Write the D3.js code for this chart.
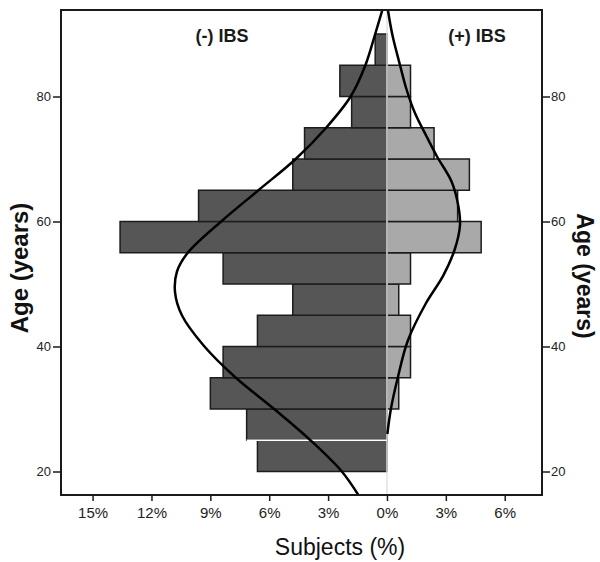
<!DOCTYPE html>
<html>
<head>
<meta charset="utf-8">
<script src="https://cdn.jsdelivr.net/npm/d3@7"></script>
<style>
  body { margin: 0; background: #fff; }
  svg { display: block; font-family: "Liberation Sans", Arial, sans-serif; }
</style>
</head>
<body>
<div id="chart"></div>
<script>
'use strict';

// age bins (lower edge, 5-year wide)
const ageBins = [20, 25, 30, 35, 40, 45, 50, 55, 60, 65, 70, 75, 80, 85];
// percent of subjects per bin
const noIbsPct = [6.6, 7.15, 9.0, 8.35, 6.6, 4.8, 8.35, 13.6, 9.6, 4.8, 4.2, 1.8, 2.4, 0.6];
const ibsPct   = [0, 0, 0.6, 1.2, 1.2, 0.6, 1.2, 4.8, 3.6, 4.2, 2.4, 1.2, 1.2, 0];

// fitted normal curves
const noIbsCurveAge = [16.2, 20, 25, 30, 35, 40, 45, 48.7, 52, 55, 60, 65, 70, 75, 80, 85, 90, 93.8];
const noIbsCurvePct = [1.45, 2.3, 3.9, 5.75, 7.7, 9.3, 10.45, 10.8, 10.7, 10.15, 8.45, 6.55, 4.65, 3.1, 1.85, 1.1, 0.6, 0.24];
const ibsCurveAge = [26, 30, 35, 41, 47, 51.3, 55.6, 59.4, 62.6, 66.4, 70.4, 73.6, 77.4, 81.2, 85.2, 89.8, 93.8];
const ibsCurvePct = [0.02, 0.2, 0.55, 1.07, 2.0, 2.86, 3.46, 3.72, 3.63, 3.29, 2.55, 2.02, 1.42, 0.99, 0.65, 0.28, 0.05];

const xTicks = [-15, -12, -9, -6, -3, 0, 3, 6];
const yTicks = [20, 40, 60, 80];

let w = 600;
let h = 562;
let fLeft = 61, fRight = 542, fTop = 10, fBottom = 495;

let x = d3.scaleLinear().domain([-16.61, 7.90]).range([fLeft, fRight]);
let y = d3.scaleLinear().domain([16.24, 93.84]).range([fBottom, fTop]);

let svg = d3.select('#chart').append('svg')
	.attr('width', w)
	.attr('height', h);

// bars: (-) IBS to the left
svg.append('g').selectAll('rect')
	.data(ageBins)
	.enter()
	.append('rect')
	.attr('x', (d, i) => x(-noIbsPct[i]))
	.attr('y', d => y(d + 5))
	.attr('width', (d, i) => x(0) - x(-noIbsPct[i]))
	.attr('height', d => y(d) - y(d + 5))
	.attr('fill', '#565656')
	.attr('stroke', '#1c1c1c')
	.attr('stroke-width', 1.5);

// bars: (+) IBS to the right
svg.append('g').selectAll('rect')
	.data(ageBins.filter((d, i) => ibsPct[i] > 0))
	.enter()
	.append('rect')
	.attr('x', x(0))
	.attr('y', d => y(d + 5))
	.attr('width', d => x(ibsPct[ageBins.indexOf(d)]) - x(0))
	.attr('height', d => y(d) - y(d + 5))
	.attr('fill', '#a9a9a9')
	.attr('stroke', '#1c1c1c')
	.attr('stroke-width', 1.5);

// white seam between the two lowest bars
svg.append('line')
	.attr('x1', x(-noIbsPct[1])).attr('x2', x(0))
	.attr('y1', y(ageBins[1])).attr('y2', y(ageBins[1]))
	.attr('stroke', '#fff')
	.attr('stroke-width', 1.5);

// zero line
svg.append('line')
	.attr('x1', x(0)).attr('x2', x(0))
	.attr('y1', fTop).attr('y2', fBottom)
	.attr('stroke', '#e2e2e2')
	.attr('stroke-width', 1.5);

// normal curves
let line = d3.line().curve(d3.curveCatmullRom.alpha(0.5));

svg.append('path')
	.attr('d', line(noIbsCurveAge.map((a, i) => [x(-noIbsCurvePct[i]), y(a)])))
	.attr('fill', 'none')
	.attr('stroke', '#000')
	.attr('stroke-width', 2.5);

svg.append('path')
	.attr('d', line(ibsCurveAge.map((a, i) => [x(ibsCurvePct[i]), y(a)])))
	.attr('fill', 'none')
	.attr('stroke', '#000')
	.attr('stroke-width', 2.5);

// frame
svg.append('rect')
	.attr('x', fLeft).attr('y', fTop)
	.attr('width', fRight - fLeft).attr('height', fBottom - fTop)
	.attr('fill', 'none')
	.attr('stroke', '#1a1a1a')
	.attr('stroke-width', 2);

// axes
let xAxis = svg.append('g')
	.attr('transform', `translate(0,${fBottom})`)
	.call(d3.axisBottom(x).tickValues(xTicks).tickSize(6).tickPadding(6)
		.tickFormat(d => Math.abs(d) + '%'));
xAxis.select('.domain').remove();
xAxis.selectAll('line').attr('stroke', '#1a1a1a').attr('stroke-width', 1.5);
xAxis.selectAll('text').attr('font-size', '15px').attr('fill', '#222');

let yLeft = svg.append('g')
	.attr('transform', `translate(${fLeft},0)`)
	.call(d3.axisLeft(y).tickValues(yTicks).tickSize(8).tickPadding(2));
yLeft.select('.domain').remove();
yLeft.selectAll('line').attr('stroke', '#1a1a1a').attr('stroke-width', 1.5);
yLeft.selectAll('text').attr('font-size', '13px').attr('fill', '#222');

let yRight = svg.append('g')
	.attr('transform', `translate(${fRight},0)`)
	.call(d3.axisRight(y).tickValues(yTicks).tickSize(8).tickPadding(1));
yRight.select('.domain').remove();
yRight.selectAll('line').attr('stroke', '#1a1a1a').attr('stroke-width', 1.5);
yRight.selectAll('text').attr('font-size', '13px').attr('fill', '#222');

// group labels
svg.append('text')
	.text('(-) IBS')
	.attr('x', 222).attr('y', 42)
	.attr('text-anchor', 'middle')
	.attr('font-size', '18px')
	.attr('font-weight', 'bold')
	.attr('fill', '#1a1a1a');

svg.append('text')
	.text('(+) IBS')
	.attr('x', 477).attr('y', 42)
	.attr('text-anchor', 'middle')
	.attr('font-size', '18px')
	.attr('font-weight', 'bold')
	.attr('fill', '#1a1a1a');

// axis titles
svg.append('text')
	.text('Subjects (%)')
	.attr('x', 340).attr('y', 555)
	.attr('text-anchor', 'middle')
	.attr('font-size', '23px')
	.attr('fill', '#111');

svg.append('text')
	.text('Age (years)')
	.attr('transform', 'translate(28,268) rotate(-90)')
	.attr('text-anchor', 'middle')
	.attr('font-size', '24px')
	.attr('font-weight', 'bold')
	.attr('fill', '#111');

svg.append('text')
	.text('Age (years)')
	.attr('transform', 'translate(577,276) rotate(90)')
	.attr('text-anchor', 'middle')
	.attr('font-size', '23px')
	.attr('font-weight', 'bold')
	.attr('fill', '#111');
</script>
</body>
</html>
